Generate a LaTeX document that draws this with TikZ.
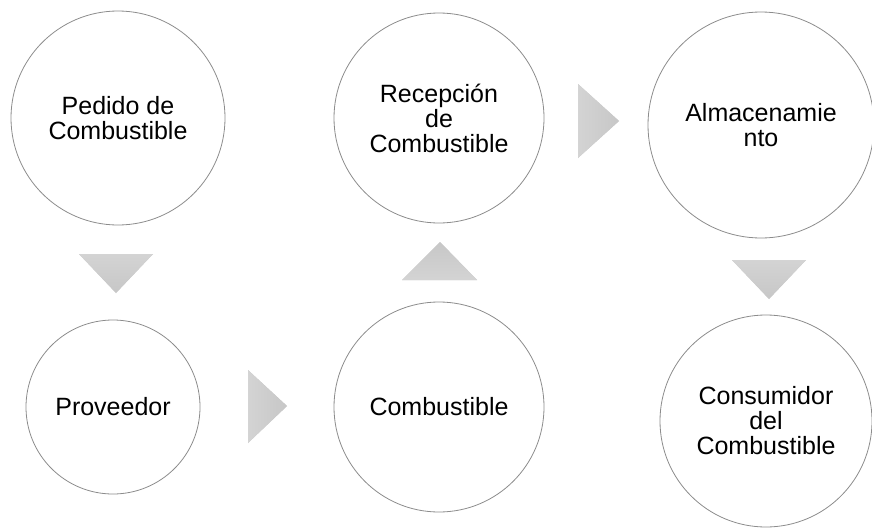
\documentclass[tikz,border=0pt]{standalone}
\usepackage{fontspec}
\setmainfont{Liberation Sans}
\begin{document}
\begin{tikzpicture}[x=1pt,y=-1pt,
  stage/.style={circle,draw=black!45,line width=0.8pt,fill=white,
    inner sep=0pt,align=center,font=\fontsize{25}{25}\selectfont,text=black},
  flowtri/.style={draw=none,fill=black!21},
  flowdown/.style={flowtri,top color=black!17,bottom color=black!22},
  flowup/.style={flowtri,bottom color=black!17,top color=black!22},
  flowright/.style={flowtri,left color=black!17,right color=black!22}]
\useasboundingbox (0,0) rectangle (872,527);

% stages of the fuel process
\node[stage,minimum size=214pt] (pedido)    at (118,118) {Pedido de\\Combustible};
\node[stage,minimum size=174pt] (proveedor) at (113,407) {Proveedor};
\node[stage,minimum size=210pt] (combust)   at (439,407) {Combustible};
\node[stage,minimum size=210pt] (recepcion) at (439,118) {Recepción\\de\\Combustible};
\node[stage,minimum size=226pt] (almacen)   at (761,125) {Almacenamie\\nto};
\node[stage,minimum size=212pt] (consumo)   at (766,421) {Consumidor\\del\\Combustible};

% direction markers between the stages
\path[flowdown]  (79,254) -- (153,254) -- (116,293) -- cycle;
\path[flowright] (248,370) -- (287,406) -- (248,443) -- cycle;
\path[flowup]    (402,280) -- (477,280) -- (440,242) -- cycle;
\path[flowright] (578,84) -- (619,121) -- (578,158) -- cycle;
\path[flowdown]  (732,260) -- (806,260) -- (769,299) -- cycle;
\end{tikzpicture}
\end{document}
